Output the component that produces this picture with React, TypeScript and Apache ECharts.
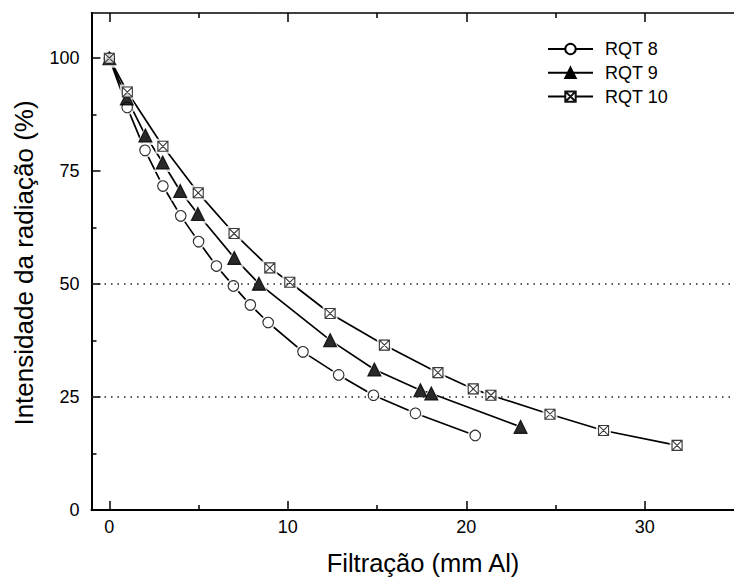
import React, { useEffect, useRef } from "react";
import * as echarts from "echarts";

const xRQT8 = [0, 1.0, 2.0, 3.0, 4.0, 5.0, 6.0, 6.95, 7.9, 8.9, 10.85, 12.85, 14.8, 17.15, 20.5];
const yRQT8 = [100, 89.1, 79.6, 71.7, 65.1, 59.4, 54.0, 49.6, 45.4, 41.5, 35.0, 29.9, 25.4, 21.4, 16.5];

const xRQT9 = [0, 0.98, 2.02, 2.99, 3.97, 4.96, 7.0, 8.38, 12.37, 14.85, 17.43, 18.04, 23.04];
const yRQT9 = [100, 91.1, 82.9, 76.9, 70.6, 65.5, 55.8, 50.1, 37.6, 31.1, 26.5, 25.8, 18.4];

const xRQT10 = [0, 1.01, 3.0, 4.98, 6.99, 8.99, 10.11, 12.37, 15.41, 18.41, 20.39, 21.38, 24.69, 27.69, 31.81];
const yRQT10 = [100, 92.5, 80.5, 70.2, 61.2, 53.6, 50.4, 43.5, 36.5, 30.4, 26.8, 25.4, 21.2, 17.6, 14.3];

const seriesNames = ["RQT 8", "RQT 9", "RQT 10"];
const xMajorTicks = [0, 10, 20, 30];
const xMinorTicks = [5, 15, 25];
const yMajorTicks = [0, 25, 50, 75, 100];
const yMinorTicks = [12.5, 37.5, 62.5, 87.5];
const refLines = [50, 25];

const xTitle = "Filtração (mm Al)";
const yTitle = "Intensidade da radiação (%)";

const FONT = "'Liberation Sans', Arial, sans-serif";
const SQUARE_X = "path://M0 0H10V10H0Z M0 0L10 10 M10 0L0 10";

function zip(xs: number[], ys: number[]) {
  return xs.map((x, i) => [x, ys[i]]);
}

export default function App() {
  const ref = useRef<HTMLDivElement>(null);

  useEffect(() => {
    if (!ref.current) return;
    const chart = echarts.init(ref.current, null, { renderer: "svg" });

    const XMIN = -1;
    const XMAX = 35;
    const YMIN = 0;
    const YMAX = 110;

    const tickStyle = { color: "#000", width: 1.5 };

    const xAxisBase = {
      type: "value" as const,
      min: XMIN,
      max: XMAX,
      splitLine: { show: false },
    };
    const yAxisBase = {
      type: "value" as const,
      min: YMIN,
      max: YMAX,
      splitLine: { show: false },
    };

    const defs = [
      { name: seriesNames[0], data: zip(xRQT8, yRQT8), symbol: "circle", size: 10.5, halo: 15, fill: "#fff", border: "#000" },
      { name: seriesNames[1], data: zip(xRQT9, yRQT9), symbol: "triangle", size: 13, halo: 19, fill: "#000", border: "#000" },
      { name: seriesNames[2], data: zip(xRQT10, yRQT10), symbol: SQUARE_X, size: 10, halo: 15, fill: "#fff", border: "#111" },
    ];

    const series: any[] = [];
    defs.forEach((d, i) => {
      series.push({
        type: "line",
        name: d.name,
        data: d.data,
        symbol: d.symbol,
        symbolSize: d.size,
        showSymbol: true,
        lineStyle: { color: "#000", width: 1.7 },
        itemStyle: { color: d.fill, borderColor: d.border, borderWidth: 1.1 },
        emphasis: { disabled: true },
        silent: true,
        z: 2,
        markLine:
          i === 0
            ? {
                silent: true,
                symbol: "none",
                label: { show: false },
                lineStyle: { color: "#222", width: 1.5, type: [1.5, 5] },
                data: refLines.map((v) => ({ yAxis: v })),
              }
            : undefined,
      });
    });
    defs.forEach((d) => {
      series.push({
        type: "scatter",
        name: d.name + " halo",
        data: d.data,
        symbol: d.symbol,
        symbolSize: d.halo,
        itemStyle: { color: "#fff", borderWidth: 0 },
        silent: true,
        z: 3,
      });
    });
    defs.forEach((d) => {
      series.push({
        type: "scatter",
        name: d.name + " mark",
        data: d.data,
        symbol: d.symbol,
        symbolSize: d.size,
        itemStyle: { color: d.fill, borderColor: d.border, borderWidth: 1.1 },
        silent: true,
        z: 4,
      });
    });

    chart.setOption({
      animation: false,
      backgroundColor: "#fff",
      textStyle: { fontFamily: FONT },
      grid: { left: 91.5, top: 13, width: 652.7, height: 497, containLabel: false },
      legend: {
        data: seriesNames,
        orient: "vertical",
        left: 542,
        top: 35,
        itemWidth: 45,
        itemHeight: 13,
        itemGap: 5.8,
        selectedMode: false,
        textStyle: { fontSize: 18, color: "#000", fontFamily: FONT, padding: [0, 0, 0, 7] },
      },
      graphic: [
        {
          type: "text",
          x: 423,
          y: 563,
          style: {
            text: xTitle,
            font: `25.5px ${FONT}`,
            fill: "#000",
            textAlign: "center",
            textVerticalAlign: "middle",
          },
        },
        {
          type: "text",
          x: 24,
          y: 263,
          rotation: Math.PI / 2,
          style: {
            text: yTitle,
            font: `26px ${FONT}`,
            fill: "#000",
            textAlign: "center",
            textVerticalAlign: "middle",
          },
        },
      ],
      xAxis: [
        {
          ...xAxisBase,
          position: "bottom",
          axisLine: { show: true, onZero: false, lineStyle: { color: "#000", width: 2 } },
          axisTick: { show: true, inside: true, length: 9, lineStyle: tickStyle, customValues: xMajorTicks },
          axisLabel: { show: true, margin: 8, fontSize: 18, color: "#000", fontFamily: FONT, customValues: xMajorTicks },
        },
        {
          ...xAxisBase,
          position: "bottom",
          axisLine: { show: false, onZero: false },
          axisTick: { show: true, inside: true, length: 5, lineStyle: tickStyle, customValues: xMinorTicks },
          axisLabel: { show: false },
        },
        {
          ...xAxisBase,
          position: "top",
          axisLine: { show: true, onZero: false, lineStyle: { color: "#000", width: 1.6 } },
          axisTick: { show: true, inside: true, length: 9, lineStyle: tickStyle, customValues: xMajorTicks },
          axisLabel: { show: false },
        },
        {
          ...xAxisBase,
          position: "top",
          axisLine: { show: false, onZero: false },
          axisTick: { show: true, inside: true, length: 5, lineStyle: tickStyle, customValues: xMinorTicks },
          axisLabel: { show: false },
        },
      ],
      yAxis: [
        {
          ...yAxisBase,
          position: "left",
          axisLine: { show: true, onZero: false, lineStyle: { color: "#000", width: 2 } },
          axisTick: { show: true, inside: true, length: 9, lineStyle: tickStyle, customValues: yMajorTicks },
          axisLabel: { show: true, margin: 12, fontSize: 18, color: "#000", fontFamily: FONT, customValues: yMajorTicks },
        },
        {
          ...yAxisBase,
          position: "left",
          axisLine: { show: false, onZero: false },
          axisTick: { show: true, inside: true, length: 5, lineStyle: tickStyle, customValues: yMinorTicks },
          axisLabel: { show: false },
        },
      ],
      series,
    });

    return () => chart.dispose();
  }, []);

  return (
    <div
      ref={ref}
      style={{ position: "fixed", left: 0, top: 0, width: 734, height: 579, background: "#fff" }}
    />
  );
}
